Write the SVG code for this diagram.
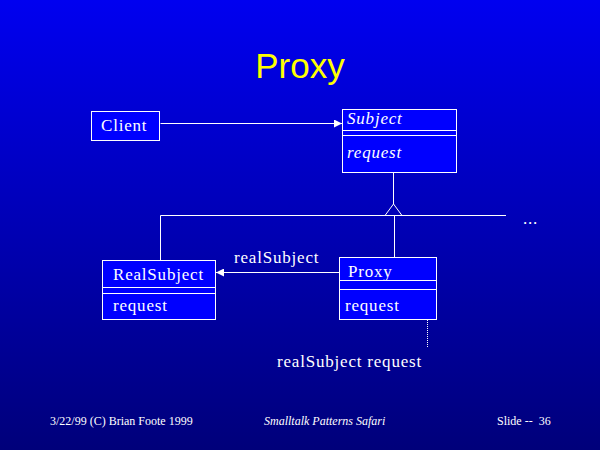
<svg xmlns="http://www.w3.org/2000/svg" width="600" height="450" viewBox="0 0 600 450">
<defs>
<linearGradient id="bg" x1="0" y1="0" x2="0" y2="1">
<stop offset="0" stop-color="#0000f0"/>
<stop offset="1" stop-color="#00007a"/>
</linearGradient>
<marker id="fa" viewBox="0 0 10 10" refX="10" refY="5" markerWidth="8" markerHeight="8" markerUnits="userSpaceOnUse" orient="auto">
<path d="M0,0 L10,5 L0,10 z" fill="#fff"/>
</marker>
<style>
.box{fill:#0000ff;stroke:#fff;stroke-width:1}
.ln{stroke:#fff;stroke-width:1;fill:none}
.t{font-family:"Liberation Serif","Times New Roman",serif;font-size:17px;fill:#fff;letter-spacing:0.8px}
.i{font-style:italic}
.f{font-family:"Liberation Serif","Times New Roman",serif;font-size:12px;fill:#fff}
</style>
</defs>
<rect width="600" height="450" fill="url(#bg)"/>
<text x="300" y="78" text-anchor="middle" font-family="Liberation Sans, Arial, sans-serif" font-size="35" fill="#ffff00">Proxy</text>

<g id="connectors">
<line class="ln" x1="160.5" y1="123.5" x2="342" y2="123.5" marker-end="url(#fa)"/>
<line class="ln" x1="393.5" y1="172" x2="393.5" y2="204"/>
<path class="ln" d="M393.5,204 L385,215.5 L402,215.5 z"/>
<line class="ln" x1="160.5" y1="215.5" x2="506" y2="215.5"/>
<line class="ln" x1="160.5" y1="215.5" x2="160.5" y2="260"/>
<line class="ln" x1="394.5" y1="215.5" x2="394.5" y2="257"/>
<line class="ln" x1="339" y1="272.5" x2="216" y2="272.5" marker-end="url(#fa)"/>
<text class="t" x="234" y="263">realSubject</text>
<line class="ln" x1="427.5" y1="306" x2="427.5" y2="348" stroke-dasharray="1,1"/>
<text class="t" x="277" y="367">realSubject request</text>
<text class="t" x="523" y="224">...</text>
</g>

<g id="client">
<rect class="box" x="91.5" y="111.5" width="68" height="29"/>
<text class="t" x="101" y="131">Client</text>
</g>

<g id="subject">
<rect class="box" x="342.5" y="109.5" width="114" height="63"/>
<line class="ln" x1="342.5" y1="130.5" x2="456.5" y2="130.5"/>
<line class="ln" x1="342.5" y1="135.5" x2="456.5" y2="135.5"/>
<text class="t i" x="347" y="124">Subject</text>
<text class="t i" x="347" y="158">request</text>
</g>

<g id="realsubject">
<rect class="box" x="102.5" y="260.5" width="113" height="59"/>
<line class="ln" x1="102.5" y1="287.5" x2="215.5" y2="287.5"/>
<line class="ln" x1="102.5" y1="293.5" x2="215.5" y2="293.5"/>
<text class="t" x="113" y="280">RealSubject</text>
<text class="t" x="113" y="311">request</text>
</g>

<g id="proxy">
<rect class="box" x="339.5" y="257.5" width="97" height="62"/>
<line class="ln" x1="339.5" y1="280.5" x2="436.5" y2="280.5"/>
<line class="ln" x1="339.5" y1="289.5" x2="436.5" y2="289.5"/>
<text class="t" x="348" y="277">Proxy</text>
<text class="t" x="345" y="311">request</text>
</g>

<text class="f" x="50" y="425">3/22/99 (C) Brian Foote 1999</text>
<text class="f i" x="264" y="425">Smalltalk Patterns Safari</text>
<text class="f" x="497" y="425" xml:space="preserve">Slide --  36</text>
</svg>
